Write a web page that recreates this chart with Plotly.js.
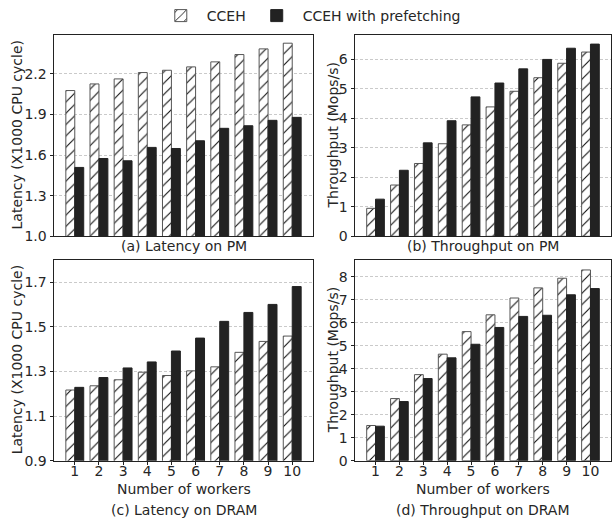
<!DOCTYPE html>
<html>
<head>
<meta charset="utf-8">
<script src="https://cdn.plot.ly/plotly-3.0.1.min.js"></script>
<style>html,body{margin:0;padding:0;background:#fff;}#chart{width:612px;height:521px;}</style>
</head>
<body>
<div id="chart"></div>
<script>
const workers = [1,2,3,4,5,6,7,8,9,10];
const seriesNames = ["CCEH", "CCEH with prefetching"];
// (a) Latency on PM (x1000 CPU cycle)
const latPM_CCEH = [2.077,2.126,2.163,2.210,2.227,2.252,2.289,2.343,2.385,2.427];
const latPM_Pref = [1.509,1.575,1.558,1.657,1.649,1.706,1.798,1.817,1.857,1.879];
// (b) Throughput on PM (Mops/s)
const tpPM_CCEH = [0.95,1.74,2.47,3.14,3.78,4.39,4.92,5.38,5.87,6.25];
const tpPM_Pref = [1.26,2.24,3.17,3.92,4.73,5.20,5.68,6.00,6.38,6.52];
// (c) Latency on DRAM
const latDR_CCEH = [1.217,1.236,1.263,1.297,1.282,1.303,1.321,1.386,1.435,1.459];
const latDR_Pref = [1.229,1.273,1.316,1.343,1.392,1.450,1.525,1.565,1.601,1.681];
// (d) Throughput on DRAM
const tpDR_CCEH = [1.53,2.70,3.74,4.63,5.61,6.34,7.07,7.51,7.93,8.29];
const tpDR_Pref = [1.50,2.57,3.57,4.47,5.06,5.79,6.27,6.32,7.21,7.48];
const captions = ["(a) Latency on PM","(b) Throughput on PM","(c) Latency on DRAM","(d) Throughput on DRAM"];
const yTitles = ["Latency (X1000 CPU cycle)","Throughput (Mops/s)","Latency (X1000 CPU cycle)","Throughput (Mops/s)"];
const xTitle = "Number of workers";

const W = 612, H = 521;
const FONT = "DejaVu Sans, sans-serif";
const TXT = "#262626";

const panels = [
  {c: latPM_CCEH, p: latPM_Pref, px:[54,313], py:[29,233], yr:[1.0,2.49], dt:0.3, t0:1.0, fmt:'.1f', bottom:false, tOff:37},
  {c: tpPM_CCEH,  p: tpPM_Pref,  px:[355,611], py:[29,233], yr:[0,6.84], dt:1, t0:0, fmt:'d', bottom:false, tOff:22},
  {c: latDR_CCEH, p: latDR_Pref, px:[54,313], py:[257,460], yr:[0.9,1.80], dt:0.2, t0:0.9, fmt:'.1f', bottom:true, tOff:37},
  {c: tpDR_CCEH,  p: tpDR_Pref,  px:[355,611], py:[257,460], yr:[0,8.72], dt:1, t0:0, fmt:'d', bottom:true, tOff:22}
];

const data = [];
const layout = {
  width: W, height: H,
  margin: {l:0, r:0, t:0, b:0},
  paper_bgcolor: "#fff", plot_bgcolor: "#fff",
  font: {family: FONT, size: 14, color: TXT},
  barmode: "group", bargap: 0.26, bargroupgap: 0,
  showlegend: true,
  legend: {orientation: "h", x: 0.507, xanchor: "center", y: 1.012, yanchor: "top",
           font: {family: FONT, size: 14, color: TXT}, itemwidth: 42, traceorder: "normal",
           bgcolor: "rgba(0,0,0,0)"},
  annotations: [],
};

panels.forEach((pn, i) => {
  const k = i === 0 ? "" : String(i + 1);
  const xa = "x" + k, ya = "y" + k;
  data.push({
    type: "bar", x: workers, y: pn.c, name: seriesNames[0], xaxis: xa, yaxis: ya,
    showlegend: i === 0, legendgroup: "a",
    marker: {color: "#ffffff", line: {color: "#555555", width: 1},
             pattern: {shape: "/", fgcolor: "#111111", bgcolor: "#ffffff", size: 8, solidity: 0.14}}
  });
  data.push({
    type: "bar", x: workers, y: pn.p, name: seriesNames[1], xaxis: xa, yaxis: ya,
    showlegend: i === 0, legendgroup: "b",
    marker: {color: "#222222", line: {color: "#222222", width: 1}}
  });
  layout["xaxis" + k] = {
    domain: [pn.px[0]/W, pn.px[1]/W], anchor: ya, range: [0.14, 10.86],
    showgrid: false, zeroline: false, showline: true, mirror: true, linecolor: "#222", linewidth: 1,
    tickmode: "array", tickvals: workers, ticktext: workers.map(String),
    showticklabels: pn.bottom, ticks: pn.bottom ? "outside" : "", ticklen: 3.5, tickcolor: "#222",
    ticklabelstandoff: -6,
    tickfont: {family: FONT, size: 14, color: TXT}, fixedrange: true
  };
  layout["yaxis" + k] = {
    domain: [1 - pn.py[1]/H, 1 - pn.py[0]/H], anchor: xa, range: pn.yr,
    tickmode: "linear", tick0: pn.t0, dtick: pn.dt, tickformat: pn.fmt,
    showgrid: true, gridcolor: "#bdbdbd", griddash: "3px,2px", gridwidth: 0.8,
    zeroline: false, showline: true, mirror: true, linecolor: "#222", linewidth: 1,
    ticks: "outside", ticklen: 3.5, tickcolor: "#222",
    tickfont: {family: FONT, size: 14, color: TXT}, fixedrange: true
  };
  const cx = (pn.px[0] + pn.px[1]) / 2;
  layout.annotations.push({
    text: captions[i], xref: "paper", yref: "paper", x: cx / W,
    y: 1 - (pn.bottom ? 510 : 243) / H, xanchor: "center", yanchor: "middle",
    showarrow: false, font: {family: FONT, size: 14, color: TXT}
  });
  layout.annotations.push({
    text: yTitles[i], xref: "paper", yref: "paper", x: (pn.px[0] - pn.tOff) / W,
    y: 1 - ((pn.py[0] + pn.py[1]) / 2) / H, xanchor: "center", yanchor: "middle",
    textangle: -90, showarrow: false, font: {family: FONT, size: 14, color: TXT}
  });
  if (pn.bottom) {
    layout.annotations.push({
      text: xTitle, xref: "paper", yref: "paper", x: cx / W, y: 1 - 489 / H,
      xanchor: "center", yanchor: "middle", showarrow: false,
      font: {family: FONT, size: 14, color: TXT}
    });
  }
});

Plotly.newPlot("chart", data, layout, {displayModeBar: false, staticPlot: true});
</script>
</body>
</html>
